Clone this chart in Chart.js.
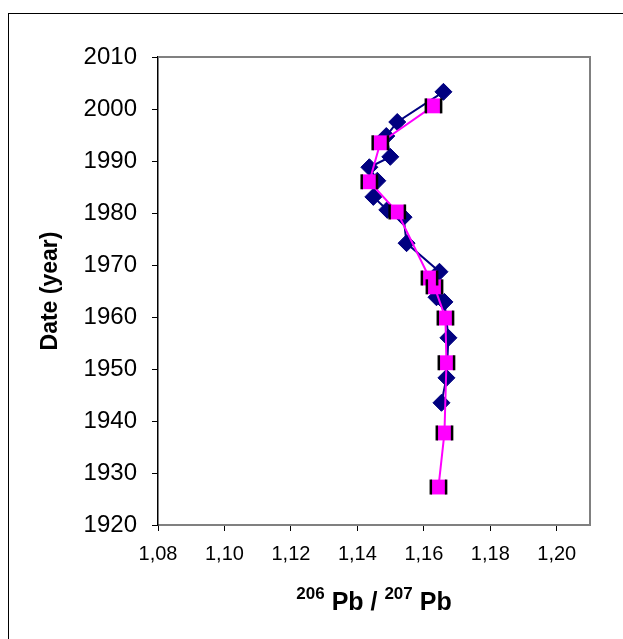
<!DOCTYPE html>
<html>
<head>
<meta charset="utf-8">
<title>Pb 206/207</title>
<script src="https://cdn.jsdelivr.net/npm/chart.js@4.4.0/dist/chart.umd.min.js"></script>
<style>
    html, body { margin: 0; padding: 0; background: #fff; }
    canvas { display: block; }
</style>
</head>
<body>
<canvas id="grafico" width="623" height="639"></canvas>
<script>
// Série azul (losangos)
const anosAzul = [2003.3, 1997.5, 1994.8, 1990.8, 1988.8, 1986.2, 1983.1, 1980.6, 1979.2, 1974.2, 1968.7, 1963.8, 1962.9, 1956.0, 1948.3, 1943.5];
const razaoAzul = [1.1659, 1.1520, 1.1487, 1.1499, 1.1436, 1.1460, 1.1448, 1.1490, 1.1539, 1.1548, 1.1647, 1.1638, 1.1662, 1.1674, 1.1668, 1.1653];

// Série rosa (quadrados) com barras de erro horizontais
const anosRosa = [2000.6, 1993.5, 1986.0, 1980.2, 1967.5, 1965.8, 1959.8, 1951.2, 1937.7, 1927.3];
const razaoRosa = [1.1629, 1.1469, 1.1436, 1.1520, 1.1617, 1.1632, 1.1665, 1.1668, 1.1662, 1.1644];
const erroRosa = [0.0023, 0.0023, 0.0023, 0.0023, 0.0023, 0.0023, 0.0023, 0.0023, 0.0023, 0.0023];

// Marcas dos eixos
const ticksX = [1.08, 1.10, 1.12, 1.14, 1.16, 1.18, 1.20];
const ticksY = [1920, 1930, 1940, 1950, 1960, 1970, 1980, 1990, 2000, 2010];

const FONTE = "'Liberation Sans', Arial, sans-serif";

function pontos(xs, ys) {
    return xs.map((x, i) => ({ x: x, y: ys[i] }));
}

// Moldura externa, borda da área do gráfico, barras de erro e título do eixo X
const extras = {
    id: 'extras',
    beforeDraw(chart) {
        const ctx = chart.ctx;
        ctx.save();
        ctx.fillStyle = '#fff';
        ctx.fillRect(0, 0, chart.width, chart.height);
        ctx.strokeStyle = '#000';
        ctx.lineWidth = 1;
        ctx.strokeRect(8.5, 13.5, 800, 800);
        ctx.restore();
    },
    beforeDatasetsDraw(chart) {
        const { ctx, chartArea: a } = chart;
        ctx.save();
        ctx.strokeStyle = '#808080';
        ctx.lineWidth = 2;
        ctx.beginPath();
        ctx.moveTo(a.left, a.top);
        ctx.lineTo(a.right, a.top);
        ctx.lineTo(a.right, a.bottom);
        ctx.stroke();
        ctx.restore();
    },
    afterDatasetsDraw(chart) {
        const { ctx, chartArea: a } = chart;
        const sx = chart.scales.x;
        const sy = chart.scales.y;
        ctx.save();
        ctx.strokeStyle = '#000';
        ctx.lineWidth = 2.5;
        razaoRosa.forEach((v, i) => {
            const py = sy.getPixelForValue(anosRosa[i]);
            [v - erroRosa[i], v + erroRosa[i]].forEach(e => {
                const px = sx.getPixelForValue(e);
                ctx.beginPath();
                ctx.moveTo(px, py - 7.5);
                ctx.lineTo(px, py + 7.5);
                ctx.stroke();
            });
        });

        // título do eixo X com sobrescritos
        const partes = [
            { t: '206', f: 'bold 17px ' + FONTE, dy: -11 },
            { t: ' Pb / ', f: 'bold 25px ' + FONTE, dy: 0 },
            { t: '207', f: 'bold 17px ' + FONTE, dy: -11 },
            { t: ' Pb', f: 'bold 25px ' + FONTE, dy: 0 }
        ];
        let total = 0;
        partes.forEach(p => { ctx.font = p.f; p.w = ctx.measureText(p.t).width; total += p.w; });
        let x = (a.left + a.right) / 2 - total / 2;
        const base = 610;
        ctx.fillStyle = '#000';
        ctx.textBaseline = 'alphabetic';
        ctx.textAlign = 'left';
        partes.forEach(p => {
            ctx.font = p.f;
            ctx.fillText(p.t, x, base + p.dy);
            x += p.w;
        });
        ctx.restore();
    }
};

const ctx = document.getElementById('grafico').getContext('2d');
new Chart(ctx, {
    type: 'scatter',
    data: {
        datasets: [{
            label: 'azul',
            data: pontos(razaoAzul, anosAzul),
            showLine: true,
            borderColor: '#000080',
            backgroundColor: '#000080',
            borderWidth: 2,
            pointStyle: 'rectRot',
            pointRadius: 8.5,
            pointBorderWidth: 1,
            pointBorderColor: '#000080',
            pointBackgroundColor: '#000080',
            order: 1
        }, {
            label: 'rosa',
            data: pontos(razaoRosa, anosRosa),
            showLine: true,
            borderColor: '#ff00ff',
            backgroundColor: '#ff00ff',
            borderWidth: 2,
            pointStyle: 'rect',
            pointRadius: 10.5,
            pointBorderWidth: 0,
            pointBackgroundColor: '#ff00ff',
            order: 0
        }]
    },
    options: {
        responsive: false,
        animation: false,
        layout: { padding: { top: 57, right: 33, bottom: 0, left: 0 } },
        plugins: {
            legend: { display: false },
            tooltip: { enabled: false }
        },
        scales: {
            x: {
                type: 'linear',
                min: 1.08,
                max: 1.21,
                afterBuildTicks: scale => { scale.ticks = ticksX.map(v => ({ value: v })); },
                afterFit: scale => { scale.height = 114; },
                border: { display: true, color: '#808080', width: 2 },
                grid: { drawOnChartArea: false, drawTicks: true, tickLength: 6, color: '#000', lineWidth: 1 },
                ticks: {
                    color: '#000',
                    padding: 11,
                    maxRotation: 0,
                    font: { family: FONTE, size: 20 },
                    callback: v => v.toFixed(2).replace('.', ',')
                },
                title: { display: false }
            },
            y: {
                type: 'linear',
                min: 1920,
                max: 2010,
                afterBuildTicks: scale => { scale.ticks = ticksY.map(v => ({ value: v })); },
                afterFit: scale => { scale.width = 158; },
                border: { display: true, color: '#000', width: 1.5 },
                grid: { drawOnChartArea: false, drawTicks: true, tickLength: 6, color: '#000', lineWidth: 1 },
                ticks: {
                    color: '#000',
                    padding: 15,
                    font: { family: FONTE, size: 24 },
                    callback: v => String(v)
                },
                title: {
                    display: true,
                    text: 'Date (year)',
                    color: '#000',
                    font: { family: FONTE, size: 23, weight: 'bold' },
                    padding: { top: 37, bottom: 0 }
                }
            }
        }
    },
    plugins: [extras]
});
</script>
</body>
</html>
